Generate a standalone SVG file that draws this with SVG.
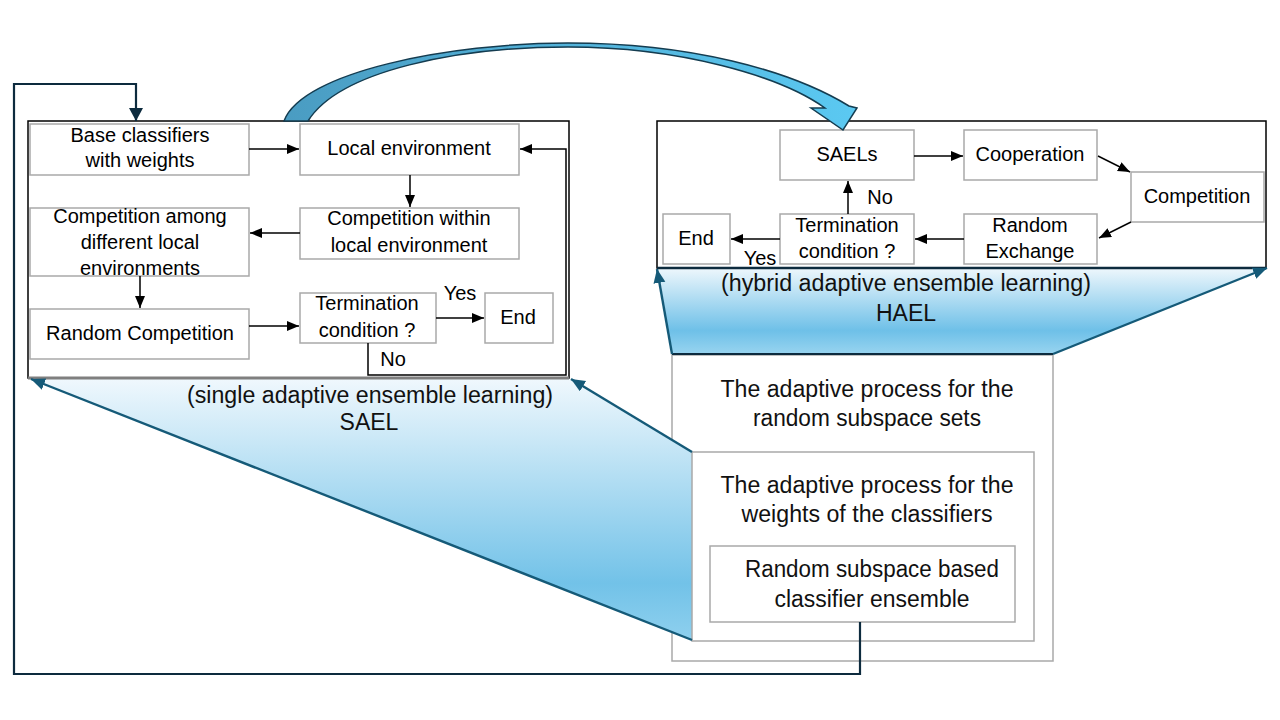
<svg xmlns="http://www.w3.org/2000/svg" width="1280" height="720" viewBox="0 0 1280 720">
<style>
.node{fill:#ffffff;stroke:#a9a9a9;stroke-width:1.5}
.cont{fill:none;stroke:#000000;stroke-width:1.5}
.t{font-family:"Liberation Sans",Arial,sans-serif;font-size:20px;fill:#000;text-anchor:middle}
.lb{font-family:"Liberation Sans",Arial,sans-serif;font-size:23px;fill:#111;text-anchor:middle}
.ar{fill:none;stroke:#000;stroke-width:1.5;marker-end:url(#ab)}
.nv{fill:none;stroke:#0d2b3e;stroke-width:2.2}
.tz{fill:none;stroke:#155a78;stroke-width:2.4;marker-end:url(#at)}
</style>
<defs>
<marker id="ab" markerUnits="userSpaceOnUse" markerWidth="14" markerHeight="12" refX="12" refY="5" orient="auto"><path d="M0,0 L12,5 L0,10 z" fill="#000"/></marker>
<marker id="an" markerUnits="userSpaceOnUse" markerWidth="16" markerHeight="16" refX="13" refY="7" orient="auto"><path d="M0,0 L13,7 L0,14 z" fill="#0d2b3e"/></marker>
<marker id="at" markerUnits="userSpaceOnUse" markerWidth="16" markerHeight="16" refX="14" refY="6" orient="auto"><path d="M0,0 L14,6 L0,12 z" fill="#155a78"/></marker>
<linearGradient id="gs" gradientUnits="userSpaceOnUse" x1="0" y1="378" x2="0" y2="641">
<stop offset="0" stop-color="#f0f8fd"/><stop offset="0.78" stop-color="#72c2e8"/><stop offset="1" stop-color="#8fd0ee"/>
</linearGradient>
<linearGradient id="gh" gradientUnits="userSpaceOnUse" x1="0" y1="268" x2="0" y2="355">
<stop offset="0" stop-color="#eef7fc"/><stop offset="0.72" stop-color="#6ec0e8"/><stop offset="1" stop-color="#9ad5f0"/>
</linearGradient>
<linearGradient id="gc" gradientUnits="userSpaceOnUse" x1="284" y1="0" x2="860" y2="0">
<stop offset="0" stop-color="#4a9cc2"/><stop offset="1" stop-color="#5bc9f2"/>
</linearGradient>
</defs>
<rect width="1280" height="720" fill="#ffffff"/>

<!-- bottom-right nested boxes (outer first) -->
<g id="rs-sets">
<rect x="672" y="355" width="381" height="306" fill="#fff" stroke="#a9a9a9" stroke-width="1.5"/>
<text class="lb" x="867" y="397" textLength="293" lengthAdjust="spacingAndGlyphs">The adaptive process for the</text>
<text class="lb" x="867" y="426" textLength="228" lengthAdjust="spacingAndGlyphs">random subspace sets</text>
</g>

<!-- SAEL trapezoid -->
<g id="sael-zoom">
<polygon points="30,378 569,378 692,452 692,640" fill="url(#gs)"/>
<text class="lb" x="370" y="403" textLength="366" lengthAdjust="spacingAndGlyphs">(single adaptive ensemble learning)</text>
<text class="lb" x="369" y="430">SAEL</text>
</g>

<!-- HAEL trapezoid -->
<g id="hael-zoom">
<polygon points="657,268 1266,268 1053,354 672,354" fill="url(#gh)"/>
<line x1="672" y1="354" x2="1053" y2="354" stroke="#0d2b3e" stroke-width="2.2"/>
<text class="lb" x="906" y="291" textLength="370" lengthAdjust="spacingAndGlyphs">(hybrid adaptive ensemble learning)</text>
<text class="lb" x="906" y="321">HAEL</text>
</g>

<g id="rs-weights">
<rect x="692" y="452" width="342" height="189" fill="#fff" stroke="#a9a9a9" stroke-width="1.5"/>
<text class="lb" x="867" y="493" textLength="293" lengthAdjust="spacingAndGlyphs">The adaptive process for the</text>
<text class="lb" x="867" y="522" textLength="251" lengthAdjust="spacingAndGlyphs">weights of the classifiers</text>
</g>
<g id="rs-ensemble">
<rect x="710" y="546" width="305" height="76" fill="#fff" stroke="#a9a9a9" stroke-width="1.5"/>
<text class="lb" x="872" y="577" textLength="254" lengthAdjust="spacingAndGlyphs">Random subspace based</text>
<text class="lb" x="872" y="607" textLength="195" lengthAdjust="spacingAndGlyphs">classifier ensemble</text>
</g>

<!-- containers -->
<g id="sael-container">
<rect class="cont" x="28" y="121" width="541" height="257"/>
<line x1="28" y1="378" x2="569" y2="378" stroke="#7f7f7f" stroke-width="3"/>
</g>
<g id="hael-container">
<rect class="cont" x="657" y="121" width="609" height="147"/>
<line x1="657" y1="268" x2="1266" y2="268" stroke="#0d2b3e" stroke-width="2.4"/>
</g>

<!-- SAEL nodes -->
<g id="s-base"><rect class="node" x="30" y="124" width="219" height="51"/>
<text class="t" x="140" y="142">Base classifiers</text><text class="t" x="140" y="167">with weights</text></g>
<g id="s-local"><rect class="node" x="300" y="124" width="219" height="51"/>
<text class="t" x="409" y="155">Local environment</text></g>
<g id="s-within"><rect class="node" x="300" y="208" width="219" height="51"/>
<text class="t" x="409" y="225">Competition within</text><text class="t" x="409" y="252">local environment</text></g>
<g id="s-among"><rect class="node" x="30" y="208" width="219" height="68"/>
<text class="t" x="140" y="223">Competition among</text><text class="t" x="140" y="249">different local</text><text class="t" x="140" y="275">environments</text></g>
<g id="s-random"><rect class="node" x="30" y="309" width="219" height="50"/>
<text class="t" x="140" y="340">Random Competition</text></g>
<g id="s-term"><rect class="node" x="300" y="293" width="136" height="50"/>
<text class="t" x="367" y="310">Termination</text><text class="t" x="367" y="337">condition ?</text></g>
<g id="s-end"><rect class="node" x="485" y="293" width="68" height="50"/>
<text class="t" x="518" y="324">End</text></g>

<!-- HAEL nodes -->
<g id="h-saels"><rect class="node" x="780" y="130" width="134" height="50"/>
<text class="t" x="847" y="161">SAELs</text></g>
<g id="h-coop"><rect class="node" x="964" y="130" width="133" height="50"/>
<text class="t" x="1030" y="161">Cooperation</text></g>
<g id="h-comp"><rect class="node" x="1131" y="172" width="133" height="50"/>
<text class="t" x="1197" y="203">Competition</text></g>
<g id="h-rex"><rect class="node" x="964" y="214" width="133" height="50"/>
<text class="t" x="1030" y="232">Random</text><text class="t" x="1030" y="258">Exchange</text></g>
<g id="h-term"><rect class="node" x="780" y="214" width="134" height="50"/>
<text class="t" x="847" y="232">Termination</text><text class="t" x="847" y="258">condition ?</text></g>
<g id="h-end"><rect class="node" x="663" y="214" width="67" height="50"/>
<text class="t" x="696" y="245">End</text></g>

<!-- connectors -->
<g id="connectors">
<line class="ar" x1="249" y1="149" x2="299" y2="149"/>
<line class="ar" x1="410" y1="175" x2="410" y2="207"/>
<line class="ar" x1="300" y1="233" x2="250" y2="233"/>
<line class="ar" x1="140" y1="276" x2="140" y2="308"/>
<line class="ar" x1="249" y1="326" x2="299" y2="326"/>
<line class="ar" x1="436" y1="318" x2="484" y2="318"/>
<polyline class="ar" points="368,343 368,375 566,375 566,149 520,149"/>
<text class="t" x="460" y="300">Yes</text>
<text class="t" x="393" y="366">No</text>

<line class="ar" x1="914" y1="156" x2="963" y2="156"/>
<line class="ar" x1="1098" y1="156" x2="1130" y2="172"/>
<line class="ar" x1="1131" y1="222" x2="1099" y2="238"/>
<line class="ar" x1="964" y1="239" x2="915" y2="239"/>
<line class="ar" x1="780" y1="239" x2="731" y2="239"/>
<line class="ar" x1="848" y1="214" x2="848" y2="181"/>
<text class="t" x="880" y="204">No</text>
<text class="t" x="760" y="265">Yes</text>

<polyline class="nv" points="860,622 860,674 14,674 14,84 136,84 136,121" marker-end="url(#an)"/>

<line class="tz" x1="692" y1="640" x2="31" y2="379"/>
<line class="tz" x1="692" y1="452" x2="571" y2="379"/>
<line class="tz" x1="672" y1="354" x2="657" y2="269"/>
<line class="tz" x1="1053" y1="354" x2="1267" y2="268"/>

<path d="M284,121 C302,72 450,43 568,43 C690,43 790,70 849,106 L857,108 L843,130 L811,108 L825,108 C780,76 680,47 568,47 C460,47 340,70 308,121 Z" fill="url(#gc)" stroke="#143c50" stroke-width="1.5"/>
</g>
</svg>
